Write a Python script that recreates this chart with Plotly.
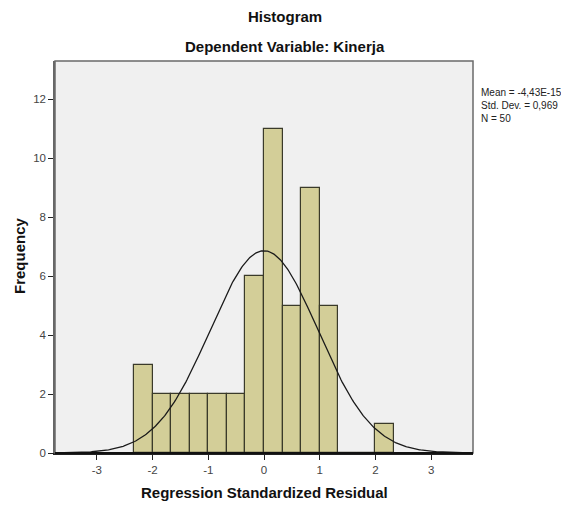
import numpy as np
import plotly.graph_objects as go

# Data
bin_left_edges = [-7/3, -2, -5/3, -4/3, -1, -2/3, -1/3, 0, 1/3, 2/3, 1, 4/3, 5/3, 2]
bin_counts = [3, 2, 2, 2, 2, 2, 6, 11, 5, 9, 5, 0, 0, 1]
bin_width = 1/3
stat_mean = -4.43e-15
stat_sd = 0.969
stat_n = 50
x_tick_vals = [-3, -2, -1, 0, 1, 2, 3]
y_tick_vals = [0, 2, 4, 6, 8, 10, 12]

centers = [e + bin_width / 2 for e in bin_left_edges]

# Normal curve from the reported statistics
xc = np.linspace(-3.75, 3.75, 400)
yc = stat_n * bin_width * np.exp(-0.5 * ((xc - stat_mean) / stat_sd) ** 2) / (stat_sd * np.sqrt(2 * np.pi))

FONT = "Arial, Liberation Sans, sans-serif"
OFF = 8  # page body margin in the browser
W, H = 569 - OFF, 505 - OFF
# target plot box in screenshot pixels: left 55, right 473, top 61, bottom 453
ML, MT = 55 - OFF, 61 - OFF
MR = 569 - 473
MB = 505 - 453
plot_h = H - MT - MB
plot_w = W - ML - MR

def py(pix):  # screenshot pixel y -> paper y
    return (453 - pix) / plot_h

def px(pix):  # screenshot pixel x -> paper x
    return (pix - 55) / plot_w

fig = go.Figure()
fig.add_trace(go.Bar(
    x=centers, y=bin_counts, width=bin_width,
    marker=dict(color="#D3CE98", line=dict(color="#3A3A2A", width=1.2)),
    hoverinfo="x+y", showlegend=False,
))
fig.add_trace(go.Scatter(
    x=xc, y=yc, mode="lines",
    line=dict(color="#1A1A1A", width=1.3), showlegend=False, hoverinfo="skip",
))

fig.update_layout(
    width=W, height=H,
    margin=dict(l=ML, r=MR, t=MT, b=MB, autoexpand=False),
    paper_bgcolor="white", plot_bgcolor="#F0F0F0",
    font=dict(family=FONT, color="#333"),
    bargap=0,
)

fig.add_annotation(text="<b>Histogram</b>", x=px(285), y=py(17), xref="paper", yref="paper",
                   showarrow=False, xanchor="center", yanchor="middle",
                   font=dict(size=15, color="#111", family=FONT))
fig.add_annotation(text="<b>Dependent Variable: Kinerja</b>", x=px(285), y=py(47), xref="paper", yref="paper",
                   showarrow=False, xanchor="center", yanchor="middle",
                   font=dict(size=15, color="#111", family=FONT))
fig.add_annotation(text=f"Mean = -4,43E-15<br>Std. Dev. = 0,969<br>N = {stat_n}",
                   x=px(479), y=py(85), xref="paper", yref="paper", align="left",
                   showarrow=False, xanchor="left", yanchor="top",
                   font=dict(size=10, color="#222", family=FONT))
fig.add_annotation(text="<b>Regression Standardized Residual</b>", x=px(264), y=py(492), xref="paper", yref="paper",
                   showarrow=False, xanchor="center", yanchor="middle",
                   font=dict(size=15, color="#111", family=FONT))
fig.add_annotation(text="<b>Frequency</b>", x=px(19), y=py(256), xref="paper", yref="paper",
                   showarrow=False, xanchor="center", yanchor="middle", textangle=-90,
                   font=dict(size=15, color="#111", family=FONT))

fig.update_xaxes(
    range=[-3.75, 3.75], tickvals=x_tick_vals, ticktext=[str(v) for v in x_tick_vals],
    ticks="outside", ticklen=5, tickcolor="#222", tickwidth=1,
    tickfont=dict(size=11.5, color="#444", family=FONT),
    showgrid=False, zeroline=False, automargin=False,
    showline=True, linecolor="#222", linewidth=1.5, mirror=False,
)
fig.update_yaxes(
    range=[0, 13.3], tickvals=y_tick_vals, ticktext=[str(v) for v in y_tick_vals],
    ticks="outside", ticklen=5, tickcolor="#222", tickwidth=1,
    tickfont=dict(size=11.5, color="#444", family=FONT),
    showgrid=False, zeroline=False, automargin=False,
    showline=True, linecolor="#666", linewidth=1.5, mirror=False,
)
# Frame around plot area
fig.add_shape(type="rect", xref="paper", yref="paper", x0=0, y0=0, x1=1, y1=1,
              line=dict(color="#6A6A6A", width=1.5), fillcolor="rgba(0,0,0,0)", layer="above")
# Darker bottom axis line drawn over frame
fig.add_shape(type="line", xref="paper", yref="paper", x0=0, y0=0, x1=1, y1=0,
              line=dict(color="#111", width=1.8), layer="above")

fig.write_html("out.html")
